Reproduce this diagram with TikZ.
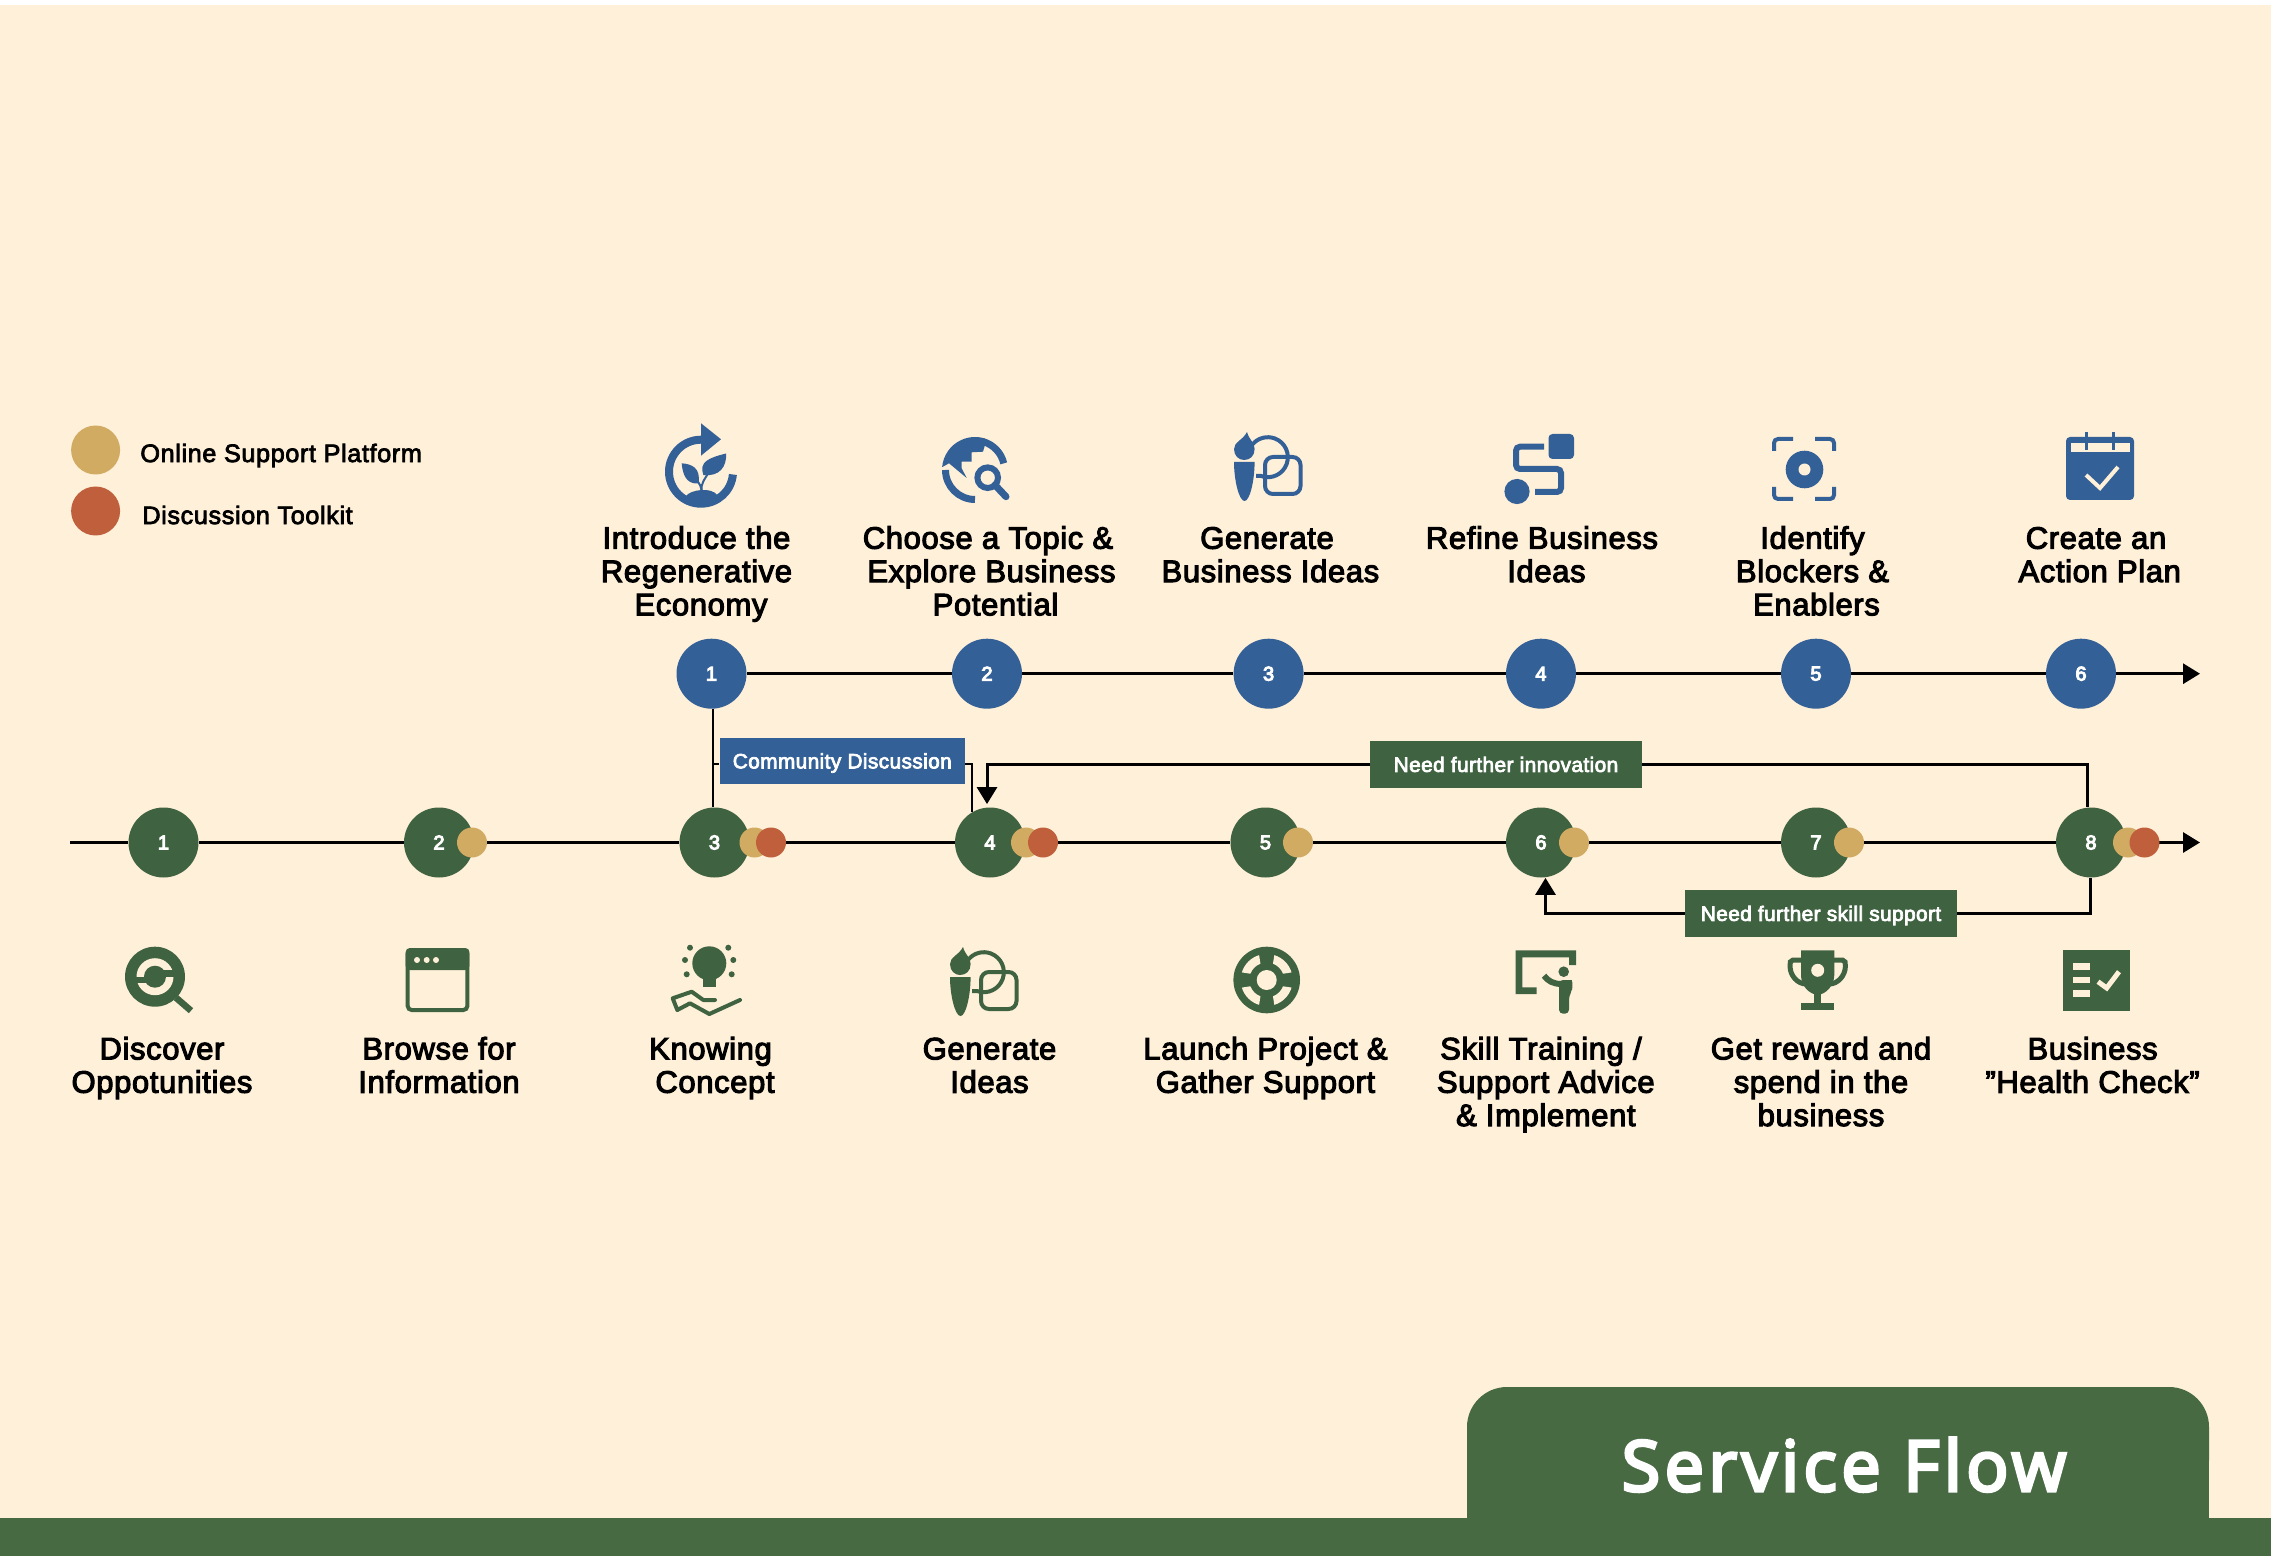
\documentclass[tikz,border=0pt]{standalone}
\usepackage{fontspec}
\usetikzlibrary{arrows.meta}
\setmainfont{Liberation Sans}
\newfontfamily\lf[FakeBold=3.5,LetterSpace=2,WordSpace=0.85]{Liberation Sans}
\newfontfamily\leg[FakeBold=3,LetterSpace=2.5]{Liberation Sans}
\newfontfamily\nbf[FakeBold=5]{Liberation Sans}
\newfontfamily\tbf[FakeBold=3.5,LetterSpace=2]{Liberation Sans}
\newfontfamily\titlef[FakeBold=4.5,LetterSpace=6.5]{Open Sans}
\definecolor{bgc}{HTML}{FFF0D9}
\definecolor{gr}{HTML}{3F6241}
\definecolor{tabc}{HTML}{476A43}
\definecolor{bl}{HTML}{336096}
\definecolor{gd}{HTML}{D2AB63}
\definecolor{rd}{HTML}{C05F3C}
\newcommand{\st}{\rule{0pt}{12pt}}
\newcommand{\tagt}[1]{\raisebox{-3.7pt}[0pt][0pt]{#1}}
\newcommand{\genicon}[3]{%
\begin{scope}[shift={(#1,#2)}]
\fill[#3] (1247,432) .. controls (1243,440) and (1234,442) .. (1234,449) .. controls (1234,456) and (1239,460) .. (1244,460) .. controls (1250,460) and (1254.6,456) .. (1254.6,449) .. controls (1254.6,442) and (1249,440) .. (1247,432) -- cycle;
\fill[#3] (1234,462) -- (1254.6,462) .. controls (1254.6,480) and (1250,501) .. (1244.5,501) .. controls (1239,501) and (1234,480) .. (1234,462) -- cycle;
\draw[#3,line width=2pt,rounded corners=4pt] (1265,457) rectangle (1300.5,494);
\draw[#3,line width=2pt] (1256,476) -- (1261,476) arc[start angle=110,end angle=-140,radius=20];
\end{scope}}
\tikzset{
 x=0.5pt,y=-0.5pt,
 lab/.style={font=\lf\fontsize{15.5}{16.65}\selectfont,align=center,anchor=north,inner sep=0pt,text=black},
 numb/.style={font=\nbf\fontsize{10}{12}\selectfont,text=white},
 bc/.style={circle,fill=bl,minimum size=35pt,inner sep=0pt,numb},
 gc/.style={circle,fill=gr,minimum size=35pt,inner sep=0pt,numb},
 goldm/.style={circle,fill=gd,minimum size=15pt,inner sep=0pt},
 redm/.style={circle,fill=rd,minimum size=15pt,inner sep=0pt},
 tagbox/.style={fill=#1,text=white,inner sep=0pt,font=\tbf\fontsize{10.4}{12}\selectfont},
 flow/.style={line width=1.5pt,draw=black},
 flowa/.style={line width=1.5pt,draw=black,-{Triangle[width=10pt,length=8.5pt]}},
 thinl/.style={line width=1pt,draw=black},
 legt/.style={font=\leg\fontsize{12.6}{14}\selectfont,anchor=west,inner sep=0pt},
}
\begin{document}
\begin{tikzpicture}
\path[use as bounding box] (0,0) rectangle (2271,1556);
\fill[white] (0,0) rectangle (2271,1556);
\fill[bgc] (0,5) rectangle (2271,1556);
% footer
\fill[tabc] (0,1518) rectangle (2271,1556);
\fill[tabc,rounded corners=20pt] (1467,1500) -- (1467,1387) -- (2209,1387) -- (2209,1500) -- cycle;
\fill[tabc] (1467,1450) rectangle (2209,1556);
\node[anchor=base,inner sep=0pt,text=white,font=\titlef\fontsize{35}{40}\selectfont] (title) at (1844,1491) {Service Flow};
% legend
\node[goldm,minimum size=24.5pt] (lg) at (95.6,450) {};
\node[redm,minimum size=24.5pt] (lr) at (95.6,511) {};
\node[legt] (lgt) at (140,455.5) {Online Support Platform};
\node[legt] (lrt) at (142,515) {Discussion Toolkit};
% stage circles
\node[bc] (b1) at (711.5,673.7) {1};
\node[bc] (b2) at (987,673.7) {2};
\node[bc] (b3) at (1268.6,673.7) {3};
\node[bc] (b4) at (1541,673.7) {4};
\node[bc] (b5) at (1816,673.7) {5};
\node[bc] (b6) at (2081,673.7) {6};
\node[gc] (g1) at (163.5,842.5) {1};
\node[gc] (g2) at (439,842.5) {2};
\node[gc] (g3) at (714.5,842.5) {3};
\node[gc] (g4) at (990,842.5) {4};
\node[gc] (g5) at (1265.5,842.5) {5};
\node[gc] (g6) at (1541,842.5) {6};
\node[gc] (g7) at (1816,842.5) {7};
\node[gc] (g8) at (2091,842.5) {8};
\coordinate (gs) at (70,842.5);
\coordinate (ge) at (2200,842.5);
\coordinate (be) at (2200,673.7);
% boxes
\node[tagbox=bl,minimum width=122.7pt,minimum height=23pt] (comm) at (842.3,761) {\tagt{Community Discussion}};
\node[tagbox=gr,minimum width=136pt,minimum height=23.5pt] (innov) at (1506,764.5) {\tagt{Need further innovation}};
\node[tagbox=gr,minimum width=136pt,minimum height=23.5pt] (skill) at (1821,913.5) {\tagt{Need further skill support}};
% connectors
\draw[flow] (b1) -- (b2);\draw[flow] (b2) -- (b3);\draw[flow] (b3) -- (b4);\draw[flow] (b4) -- (b5);\draw[flow] (b5) -- (b6);
\draw[flowa] (b6) -- (be);
\draw[flow] (gs) -- (g1);\draw[flow] (g1) -- (g2);\draw[flow] (g2) -- (g3);\draw[flow] (g3) -- (g4);\draw[flow] (g4) -- (g5);\draw[flow] (g5) -- (g6);\draw[flow] (g6) -- (g7);\draw[flow] (g7) -- (g8);
\draw[flowa] (g8) -- (ge);
\draw[thinl] ([xshift=.5pt]b1.south) -- ([xshift=-1pt]g3.north);
\draw[thinl] ([yshift=-1.5pt]comm.west) -- +(-7.5,0);
\draw[thinl] ([yshift=-1.5pt]comm.east) -| (g4.120);
\draw[flow] (innov.east) -| ([xshift=-2pt]g8.north);
\draw[flowa,shorten >=1.5pt] (innov.west) -| ([xshift=-1.5pt]g4.north);
\draw[flow] (skill.east) -| ([xshift=-.5pt]g8.south);
\draw[flowa] (skill.west) -| ([xshift=2.25pt]g6.south);
% markers
\node[goldm] (m2) at (472,842.5) {};
\node[goldm] (m3a) at (754.5,842.5) {};
\node[redm] (m3b) at (771,842.5) {};
\node[goldm] (m4a) at (1026,842.5) {};
\node[redm] (m4b) at (1043,842.5) {};
\node[goldm] (m5) at (1298,842.5) {};
\node[goldm] (m6) at (1574,842.5) {};
\node[goldm] (m7) at (1849,842.5) {};
\node[goldm] (m8a) at (2128,842.5) {};
\node[redm] (m8b) at (2144.5,842.5) {};
% top labels
\node[lab] (t1) at (696.5,524.3) {\st Introduce the\\Regenerative\\\hspace*{4.5pt}Economy};
\node[lab] (t2) at (988,524.3) {\st Choose a Topic \&\\\hspace*{3.5pt}Explore Business\\\hspace*{7.5pt}Potential};
\node[lab] (t3) at (1267,524.3) {\st Generate\\\hspace*{3.4pt}Business Ideas};
\node[lab] (t4) at (1542,524.3) {\st Refine Business\\\hspace*{4.4pt}Ideas};
\node[lab] (t5) at (1812.5,524.3) {\st Identify\\Blockers \&\\\hspace*{4pt}Enablers};
\node[lab] (t6) at (2096,524.3) {\st Create an\\\hspace*{3.7pt}Action Plan};
% bottom labels
\node[lab] (u1) at (162,1035) {\st Discover\\Oppotunities};
\node[lab] (u2) at (439,1035) {\st Browse for\\Information};
\node[lab] (u3) at (710.5,1035) {\st Knowing\\\hspace*{4.5pt}Concept};
\node[lab] (u4) at (989.5,1035) {\st Generate\\Ideas};
\node[lab] (u5) at (1265.5,1035) {\st Launch Project \&\\Gather Support};
\node[lab] (u6) at (1541,1035) {\st Skill Training /\\\hspace*{4.8pt}Support Advice\\\hspace*{4.8pt}\& Implement};
\node[lab] (u7) at (1821,1035) {\st Get reward and\\spend in the\\business};
\node[lab] (u8) at (2092.6,1035) {\st Business\\”Health Check”};
% ---------- icons: blue
% 1 introduce
\draw[bl,line width=4pt] (701,439.7) arc[start angle=-90,end angle=-355,radius=32];
\fill[bl] (701,423.3) -- (721,439.3) -- (701,455.7) -- cycle;
\fill[bl] (703.3,475) .. controls (699,462) and (708,458) .. (726,453.5) .. controls (727,466) and (720,477) .. (703.3,475) -- cycle;
\fill[bl] (681.7,463.3) .. controls (692,464) and (701,468) .. (698.5,483.5) .. controls (690,484) and (683,480) .. (681.7,463.3) -- cycle;
\draw[bl,line width=1pt] (701.5,490) .. controls (701,484) and (696,480) .. (694,476);
\draw[bl,line width=1pt] (701.5,490) .. controls (701,484) and (704,480) .. (709,472);
\fill[bl] (686,496) .. controls (690,490) and (712,486) .. (718,496) -- (712,506) -- (690,506) -- cycle;
% 2 choose
\begin{scope}[shift={(975,470)}]
\fill[bl] (-175:33) arc[start angle=-175,end angle=-72,radius=33] -- (10,-25) -- (8,-18.3) -- (-3.3,-17.7) -- (-3.3,-8.3) -- (-13.3,-8.3) -- (-13.3,-1.7) -- (-8.3,8) -- (-26,-6.7) -- cycle;
\draw[bl,line width=3.5pt] (180:29.5) arc[start angle=180,end angle=90,radius=29.5];
\draw[bl,line width=3.5pt] (-75:29.5) arc[start angle=-75,end angle=-13,radius=29.5];
\fill[bgc] (12.7,7.7) circle[radius=16];
\draw[bl,line width=3pt] (12.7,7.7) circle[radius=10.3];
\draw[bl,line width=3.5pt,line cap=round] (20,15) -- (31,26.7);
\end{scope}
% 3 generate
\genicon{0}{0}{bl}
% 4 refine
\fill[bl,rounded corners=2pt] (1548.5,434) rectangle (1574,459);
\fill[bl] (1517,491.5) circle[radius=12.6];
\draw[bl,line width=3pt,rounded corners=2pt] (1544,446.7) -- (1516,446.7) -- (1516,469) -- (1561,469) -- (1561,492) -- (1535,492);
% 5 identify
\draw[bl,line width=2pt,rounded corners=2pt] (1793,439) -- (1774,439) -- (1774,451);
\draw[bl,line width=2pt,rounded corners=2pt] (1815,439) -- (1834,439) -- (1834,451);
\draw[bl,line width=2pt,rounded corners=2pt] (1793,499) -- (1774,499) -- (1774,487);
\draw[bl,line width=2pt,rounded corners=2pt] (1815,499) -- (1834,499) -- (1834,487);
\fill[bl] (1804.5,469.5) circle[radius=18.8];
\fill[bgc] (1804.5,469.5) circle[radius=6];
% 6 calendar
\fill[bl,rounded corners=2pt] (2066,437) rectangle (2134,500);
\fill[bgc] (2071,443) rectangle (2129.5,452);
\draw[bl,line width=1.5pt] (2086,432) -- (2086,450);
\draw[bl,line width=1.5pt] (2113,432) -- (2113,450);
\draw[bgc,line width=2pt] (2086,475) -- (2100,488) -- (2118,467);
% ---------- icons: green
% discover
\begin{scope}[shift={(155,976.7)}]
\draw[gr,line width=3.3pt] (21,21) -- (36,34);
\fill[gr] (0,0) circle[radius=30];
\fill[bgc] (0,0) circle[radius=18.5];
\fill[gr] (0,0) circle[radius=11];
\fill[gr] (-20,0) rectangle (0,6.5);
\fill[gr] (0,-6.5) rectangle (20,0);
\end{scope}
% browse
\draw[gr,line width=2pt,rounded corners=2pt] (407.7,950) rectangle (467.4,1010);
\fill[gr,rounded corners=2pt] (405.7,948) rectangle (469.4,970);
\fill[bgc] (417,960) circle[radius=3] (426.7,960) circle[radius=3] (436,960) circle[radius=3];
% knowing
\fill[gr] (709.3,963.3) circle[radius=17];
\fill[gr] (702.7,970) rectangle (716,987.3);
\foreach \px/\py in {690/947.7,728.3/947.7,685/960,733.3/960,686.7/974.3,731.7/974.3}{\fill[gr] (\px,\py) circle[radius=3];}
\draw[gr,line width=2pt,line cap=round,line join=round] (715,1000) -- (703.3,1000) -- (691.7,991.7) -- (672.7,998.3) -- (677.3,1010) -- (690,1003.3) -- (709.3,1014) -- (740,1000);
% generate
\genicon{-284}{515}{gr}
% launch
\begin{scope}[shift={(1266.7,980)}]
\fill[gr] (0,0) circle[radius=33.3];
\fill[bgc] (0,0) circle[radius=10];
\foreach \a in {45,135,225,315}{
\fill[bgc] (\a-28:26) arc[start angle=\a-28,end angle=\a+28,radius=26] -- (\a+24:17.5) arc[start angle=\a+24,end angle=\a-24,radius=17.5] -- cycle;}
\end{scope}
% skill
\fill[gr] (1515.7,950.3) -- (1576,950.3) -- (1576,965) -- (1569,965) -- (1569,957.3) -- (1522.3,957.3) -- (1522.3,987.3) -- (1536.7,987.3) -- (1536.7,994) -- (1515.7,994) -- cycle;
\fill[gr] (1563.7,971.7) circle[radius=5.3];
\draw[gr,line width=3pt] (1544,975.7) .. controls (1548,981) and (1553,984) .. (1562,984);
\fill[gr,rounded corners=2pt] (1559,980) -- (1568,980) .. controls (1571,980) and (1572.3,983) .. (1572.3,986) -- (1572.3,990) -- (1569,996) -- (1569,1013.7) -- (1559,1013.7) -- cycle;
% trophy
\fill[gr] (1801,950.3) -- (1834.3,950.3) -- (1834.3,975) .. controls (1834,986) and (1826,994) .. (1817.7,995) .. controls (1809,994) and (1801,986) .. (1801,975) -- cycle;
\fill[bgc] (1817.7,970.3) circle[radius=6.5];
\draw[gr,line width=2.5pt] (1803,960) -- (1793,960) .. controls (1790,960) and (1790,963) .. (1790,966) .. controls (1790,976) and (1798,984) .. (1806,984);
\draw[gr,line width=2.5pt] (1832.4,960) -- (1842.4,960) .. controls (1845.4,960) and (1845.4,963) .. (1845.4,966) .. controls (1845.4,976) and (1837.4,984) .. (1829.4,984);
\fill[gr] (1814.3,990) rectangle (1821,1004);
\fill[gr] (1801,1003.3) rectangle (1834.3,1010.3);
% checklist
\fill[gr] (2063,950) rectangle (2130,1010.7);
\fill[bgc] (2073,963) rectangle (2090,970);
\fill[bgc] (2073,976.7) rectangle (2090,983);
\fill[bgc] (2073,990) rectangle (2090,996.7);
\draw[bgc,line width=2.5pt] (2098,981.7) -- (2106.7,988) -- (2119,971.7);
\end{tikzpicture}
\end{document}
